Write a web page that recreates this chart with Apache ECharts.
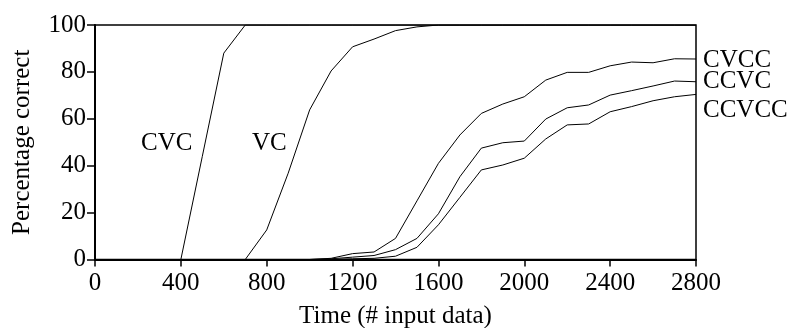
<!DOCTYPE html>
<html>
<head>
<meta charset="utf-8">
<script src="https://cdn.jsdelivr.net/npm/echarts@6/dist/echarts.min.js"></script>
<style>html,body{margin:0;padding:0;background:#fff}#c{width:794px;height:328px}</style>
</head>
<body>
<div id="c"></div>
<script>
var xValues = [0,100,200,300,400,500,600,700,800,900,1000,1100,1200,1300,1400,1500,1600,1700,1800,1900,2000,2100,2200,2300,2400,2500,2600,2700,2800];
var cvc   = [0,0,0,0,0,44,88,100,100,100,100,100,100,100,100,100,100,100,100,100,100,100,100,100,100,100,100,100,100];
var vc    = [0,0,0,0,0,0,0,0,12.6,36.8,63.8,80.4,90.7,94,97.6,99.2,100,100,100,100,100,100,100,100,100,100,100,100,100];
var cvcc  = [0,0,0,0,0,0,0,0,0,0,0,0.5,2.5,3.2,9,25,41,53.1,62.3,66.3,69.4,76.5,79.8,79.8,82.6,84.2,83.9,85.6,85.5];
var ccvc  = [0,0,0,0,0,0,0,0,0,0,0,0.3,1,1.7,4.2,9,19.5,35.3,47.5,49.8,50.5,59.9,64.7,65.9,70.1,72,74,76.1,75.8];
var ccvcc = [0,0,0,0,0,0,0,0,0,0,0,0,0.3,0.5,1.4,5.2,14.8,26.5,38.2,40.3,43.2,51.4,57.4,57.8,63,65.2,67.7,69.4,70.4];
var xTicks = [0,400,800,1200,1600,2000,2400,2800];
var yTicks = [0,20,40,60,80,100];
var seriesNames = ['CVC','VC','CVCC','CCVC','CCVCC'];

function pairs(arr){ return arr.map(function(v,i){ return [xValues[i], v]; }); }
var FONT = 'Liberation Serif';
var chart = echarts.init(document.getElementById('c'));
function lineSeries(name, arr, endOffset){
  var s = {
    name: name, type: 'line', data: pairs(arr), symbol: 'none', smooth: false,
    lineStyle: {color: '#000', width: 1}, silent: true, animation: false
  };
  if (endOffset) {
    s.endLabel = {show: true, formatter: name, position: 'right', distance: 7, offset: endOffset,
      color: '#000', fontFamily: FONT, fontSize: 25};
  }
  return s;
}
chart.setOption({
  animation: false,
  grid: {left: 95, right: 98, top: 25, bottom: 68.5, show: true, borderColor: '#000', borderWidth: 1.5,
    containLabel: false, outerBoundsMode: 'none'},
  xAxis: {
    type: 'value', min: xTicks[0], max: xTicks[xTicks.length-1], interval: 400,
    name: 'Time (# input data)', nameLocation: 'middle', nameGap: 44,
    nameTextStyle: {fontFamily: FONT, fontSize: 25, color: '#000'},
    axisLine: {lineStyle: {color: '#000', width: 2}},
    axisTick: {length: 7, lineStyle: {color: '#000', width: 1.5}},
    axisLabel: {fontFamily: FONT, fontSize: 25, color: '#000', margin: 11, formatter: function(v){ return String(v); }},
    splitLine: {show: false}
  },
  yAxis: {
    type: 'value', min: yTicks[0], max: yTicks[yTicks.length-1], interval: 20,
    name: 'Percentage correct', nameLocation: 'middle', nameGap: 60, nameRotate: 90,
    nameTextStyle: {fontFamily: FONT, fontSize: 25, color: '#000'},
    axisLine: {lineStyle: {color: '#000', width: 2}},
    axisTick: {length: 8, lineStyle: {color: '#000', width: 1.5}},
    axisLabel: {fontFamily: FONT, fontSize: 25, color: '#000', margin: 9, formatter: function(v){ return String(v); }},
    splitLine: {show: false}
  },
  graphic: [
    {type: 'text', left: 141, top: 131, style: {text: 'CVC', fontFamily: FONT, fontSize: 25, fill: '#000'}},
    {type: 'text', left: 252, top: 131, style: {text: 'VC', fontFamily: FONT, fontSize: 25, fill: '#000'}}
  ],
  series: [
    lineSeries('CVC', cvc),
    lineSeries('VC', vc),
    lineSeries('CVCC', cvcc, [0, 1]),
    lineSeries('CCVC', ccvc, [0, 0]),
    lineSeries('CCVCC', ccvcc, [0, 16])
  ]
});
</script>
</body>
</html>
